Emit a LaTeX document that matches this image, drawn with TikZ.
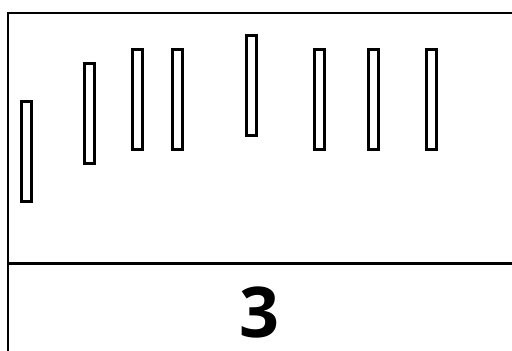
\documentclass[tikz,border=0pt]{standalone}
\usepackage{fontspec}
\newfontfamily\digitfont{Open Sans}
\begin{document}
\begin{tikzpicture}[x=1pt,y=-1pt,
  frame/.style={line width=2.4pt},
  bar/.style={draw,line width=3pt,rectangle,inner sep=0pt,minimum width=10pt,minimum height=100pt},
  label/.style={font=\digitfont\bfseries\fontsize{70}{70}\selectfont,inner sep=0pt}]
\useasboundingbox (0,0) rectangle (512,351);
\clip (0,0) rectangle (512,351);
\fill[white] (0,0) rectangle (512,351);
\coordinate (tl) at (8,13);
\coordinate (tr) at (520,13);
\coordinate (bl) at (8,360);
\coordinate (ml) at (8,263.5);
\coordinate (mr) at (520,263.5);
\draw[frame] (tr) -- (tl) -- (bl);
\draw[frame] (ml) -- (mr);
\node[bar] (b1) at (26.5,151.5) {};
\node[bar] (b2) at (89.5,113.5) {};
\node[bar] (b3) at (137.5,99.5) {};
\node[bar] (b4) at (177.5,99.5) {};
\node[bar] (b5) at (251.5,85.5) {};
\node[bar] (b6) at (319.5,99.5) {};
\node[bar] (b7) at (373.5,99.5) {};
\node[bar] (b8) at (431.5,99.5) {};
\node[label] (num) at (259,312) {3};
\end{tikzpicture}
\end{document}
